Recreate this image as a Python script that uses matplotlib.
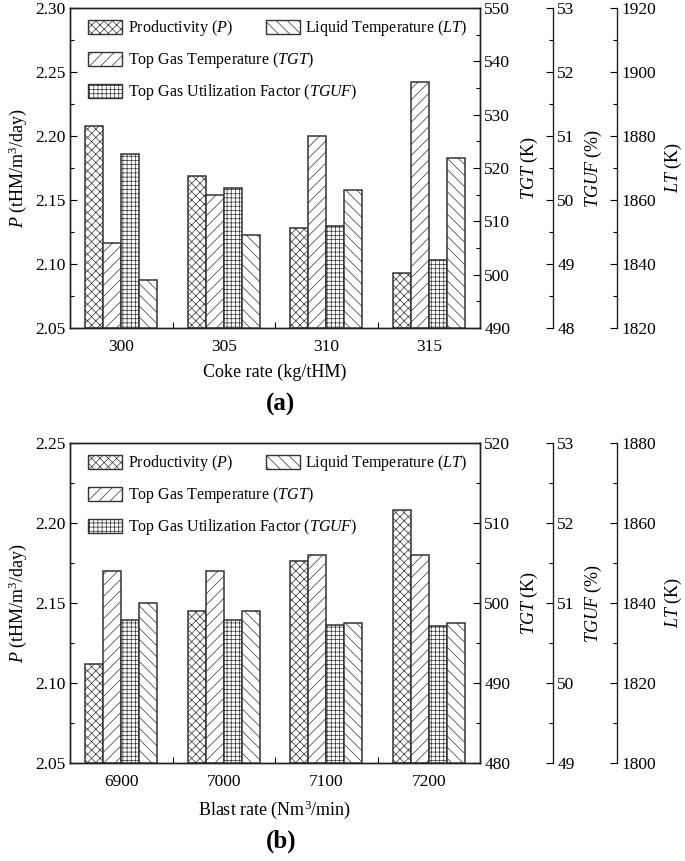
import matplotlib
matplotlib.use("Agg")
import matplotlib.pyplot as plt
from matplotlib.patches import Patch
from matplotlib.ticker import MultipleLocator, FixedLocator, FormatStrFormatter
import numpy as np

plt.rcParams['font.family'] = ['Liberation Serif', 'DejaVu Serif']
plt.rcParams['mathtext.fontset'] = 'custom'
plt.rcParams['mathtext.rm'] = 'Liberation Serif'
plt.rcParams['mathtext.it'] = 'Liberation Serif:italic'
plt.rcParams['hatch.linewidth'] = 0.5
plt.rcParams['hatch.color'] = '#3a3a3a'

# ---- data: panel (a) coke rate ----
coke_rates = ['300', '305', '310', '315']
coke_P = [2.208, 2.169, 2.128, 2.093]
coke_TGT = [506.0, 515.0, 526.0, 536.2]
coke_TGUF = [50.72, 50.18, 49.59, 49.07]
coke_LT = [1835, 1849, 1863, 1873]

# ---- data: panel (b) blast rate ----
blast_rates = ['6900', '7000', '7100', '7200']
blast_P = [2.112, 2.145, 2.176, 2.208]
blast_TGT = [504.0, 504.0, 506.0, 506.0]
blast_TGUF = [50.79, 50.79, 50.73, 50.71]
blast_LT = [1840, 1838, 1835, 1835]

labels = [r'Productivity ($P$)', r'Top Gas Temperature ($TGT$)',
          r'Top Gas Utilization Factor ($TGUF$)', r'Liquid Temperature ($LT$)']
hatches = ['xxxx', '///', '++++', '\\\\\\']
EDGE = '#333333'
TICKFS = 12.5
LABFS = 13

fig = plt.figure(figsize=(6.85, 8.61), dpi=100)


def panel(rect, cats, P, TGT, TGUF, LT, lims, ticks, xlabel, tag, tagy):
    ax = fig.add_axes(rect)
    ax2 = ax.twinx()
    ax3 = ax.twinx()
    ax4 = ax.twinx()
    axes = [ax, ax2, ax3, ax4]
    series = [P, TGT, TGUF, LT]
    x = np.arange(len(cats))
    w = 0.175
    offs = [-1.5 * w, -0.5 * w, 0.5 * w, 1.5 * w]
    for a, s, h, o, (lo, hi) in zip(axes, series, hatches, offs, lims):
        a.bar(x + o, np.array(s) - lo, bottom=lo, width=w, color='white',
              edgecolor=EDGE, linewidth=1.1, hatch=h)
        a.set_ylim(lo, hi)
    ax.set_xlim(-0.5, 3.5)
    ax.set_xticks(x)
    ax.set_xticklabels(cats, fontsize=TICKFS)
    ax.xaxis.set_minor_locator(FixedLocator([0.5, 1.5, 2.5]))
    ax.tick_params(axis='x', which='major', length=0, pad=8)
    ax.tick_params(axis='x', which='minor', direction='in', length=4, width=0.8)
    ax.tick_params(axis='y', which='both', direction='in', labelsize=TICKFS, width=0.8)
    ax.tick_params(axis='y', which='major', length=5)
    ax.tick_params(axis='y', which='minor', length=3)
    ax.tick_params(axis='x', which='both', top=False)

    for a, tk in zip(axes, ticks):
        a.yaxis.set_major_locator(MultipleLocator(tk))
        a.yaxis.set_minor_locator(MultipleLocator(tk / 2))
    ax.yaxis.set_major_formatter(FormatStrFormatter('%.2f'))
    for a in [ax2, ax3, ax4]:
        a.yaxis.set_major_formatter(FormatStrFormatter('%d'))
        a.tick_params(axis='y', which='both', direction='in', labelsize=TICKFS,
                      width=0.8, pad=3)
        a.tick_params(axis='y', which='major', length=5)
        a.tick_params(axis='y', which='minor', length=3)
    for a, pos in [(ax3, 1.178), (ax4, 1.334)]:
        a.spines['right'].set_position(('axes', pos))
        for sp in ['left', 'top', 'bottom']:
            a.spines[sp].set_visible(False)
    for a in axes:
        for sp in a.spines.values():
            sp.set_linewidth(1.0)
            sp.set_color('#222222')

    ax.set_ylabel(r'$P$ (tHM/m$^3$/day)', fontsize=LABFS, labelpad=4)
    ax2.set_ylabel(r'$TGT$ (K)', fontsize=LABFS, labelpad=6)
    ax3.set_ylabel(r'$TGUF$ (%)', fontsize=LABFS, labelpad=6)
    ax4.set_ylabel(r'$LT$ (K)', fontsize=LABFS, labelpad=5)
    ax.set_xlabel(xlabel, fontsize=LABFS, labelpad=6)

    handles = [Patch(facecolor='white', edgecolor=EDGE, hatch=h, linewidth=1.0)
               for h in hatches]
    kw = dict(frameon=False, fontsize=11.5, handlelength=2.1, handleheight=0.95,
              handletextpad=0.35, borderpad=0, borderaxespad=0, labelspacing=0.75,
              loc='upper left')
    leg1 = ax4.legend(handles[:3], labels[:3], bbox_to_anchor=(0.045, 0.968), **kw)
    ax4.add_artist(leg1)
    ax4.legend(handles[3:], labels[3:], bbox_to_anchor=(0.478, 0.968), **kw)

    fig.text(0.41, tagy, tag, fontsize=18, fontweight='bold', ha='center', va='center')
    return ax


L, W, H = 70 / 685, 410 / 685, 320 / 861
panel([L, 1 - 328 / 861, W, H], coke_rates, coke_P, coke_TGT, coke_TGUF, coke_LT,
      [(2.05, 2.30), (490, 550), (48, 53), (1820, 1920)], [0.05, 10, 1, 20],
      'Coke rate (kg/tHM)', '(a)', 1 - 404 / 861)
panel([L, 1 - 763 / 861, W, H], blast_rates, blast_P, blast_TGT, blast_TGUF, blast_LT,
      [(2.05, 2.25), (480, 520), (49, 53), (1800, 1880)], [0.05, 10, 1, 20],
      r'Blast rate (Nm$^3$/min)', '(b)', 1 - 841 / 861)

fig.savefig('out.png', dpi=100)
